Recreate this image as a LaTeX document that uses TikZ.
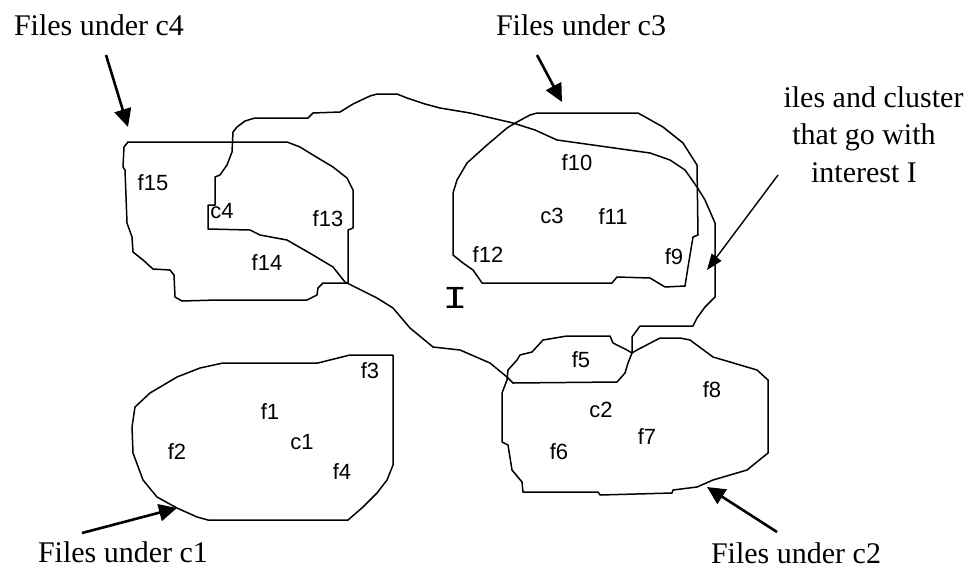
\documentclass[tikz,border=0pt]{standalone}
\usepackage{fontspec}
\setmainfont{Liberation Serif}
\setsansfont{Liberation Sans}
\setmonofont{Liberation Mono}
\usetikzlibrary{arrows.meta}

\begin{document}
\begin{tikzpicture}[x=1pt, y=-1pt,
  blob/.style={line width=1.5pt, line join=round},
  pointer/.style={line width=2.6pt, -{Triangle[length=18pt,width=17pt]}},
  thinpointer/.style={line width=1.4pt, -{Triangle[length=16pt,width=12pt]}},
  file/.style={font=\sffamily\fontsize{22}{24}\selectfont, inner sep=0pt},
  caption/.style={font=\fontsize{30}{37.5}\selectfont, inner sep=0pt},
]
\useasboundingbox (0,0) rectangle (971,571);

%% Cluster c4
\draw[blob] (128,142) -- (287,142) -- (300,147) -- (313,155) -- (333,167)
  -- (347,178) -- (353,190) -- (353,228) -- (348,230) -- (348,283)
  -- (323,283) -- (318,288) -- (317,295) -- (307,300) -- (217,300)
  -- (182,301) -- (175,297) -- (174,275) -- (170,270) -- (153,269)
  -- (143,260) -- (133,252) -- (132,237) -- (127,223) -- (125,170)
  -- (123,167) -- (124,147) -- cycle;

%% Cluster c3
\draw[blob] (537,113) -- (638,113) -- (663,127) -- (683,143) -- (697,165)
  -- (698,235) -- (693,237) -- (688,267) -- (685,286) -- (665,287)
  -- (650,278) -- (617,277) -- (612,283) -- (482,283) -- (480,280)
  -- (473,270) -- (463,263) -- (453,255) -- (453,193) -- (457,180)
  -- (467,163) -- (487,145) -- (507,128) -- (517,122) -- (530,115) -- cycle;

%% Cluster c1
\draw[blob] (223,363) -- (318,363) -- (350,355) -- (393,355) -- (393,465)
  -- (387,480) -- (377,493) -- (363,507) -- (348,520) -- (208,520)
  -- (197,517) -- (177,508) -- (157,497) -- (143,480) -- (133,453)
  -- (132,427) -- (135,407) -- (150,393) -- (177,377) -- (200,368) -- cycle;

%% Cluster c2 (top edge runs over f5)
\draw[blob] (507,380) -- (508,370) -- (517,360) -- (520,355) -- (532,352)
  -- (543,340) -- (567,336) -- (610,336) -- (613,343) -- (627,350)
  -- (632,353) -- (637,350) -- (660,338) -- (680,338) -- (690,340)
  -- (713,357) -- (730,362) -- (757,370) -- (768,380) -- (768,453)
  -- (747,470) -- (713,480) -- (697,487) -- (673,490) -- (672,493)
  -- (600,495) -- (598,492) -- (523,492) -- (522,482) -- (512,470)
  -- (508,445) -- (502,442) -- (502,393) -- cycle;

%% Interest I
\draw[blob] (208,229) -- (208,205) -- (215,205) -- (215,177) -- (220,175)
  -- (227,165) -- (232,152) -- (233,132) -- (237,127) -- (245,121)
  -- (255,118) -- (308,118) -- (313,113) -- (340,112) -- (353,104)
  -- (370,96) -- (377,94) -- (397,94) -- (407,98) -- (425,104)
  -- (440,108) -- (470,113) -- (513,123) -- (535,130) -- (557,140)
  -- (600,146) -- (650,153) -- (670,160) -- (685,170) -- (697,187)
  -- (705,200) -- (715,223) -- (715,297) -- (705,307) -- (697,318)
  -- (693,326) -- (640,326) -- (632,337) -- (632,353) -- (628,363)
  -- (625,373) -- (617,382) -- (513,383) -- (507,377) -- (490,363)
  -- (460,350) -- (433,347) -- (410,328) -- (393,308) -- (377,298)
  -- (345,282) -- (333,267) -- (313,255) -- (287,240) -- (260,235)
  -- (250,230) -- cycle;
\node[font=\ttfamily\fontsize{32}{32}\selectfont, inner sep=0pt] (ilbl)
  at (455,298) {\scalebox{1.3}[1]{I}};

%% File labels
\node[file] (f15) at (153,183) {f15};
\node[file] (c4)  at (222,211) {c4};
\node[file] (f13) at (328,219) {f13};
\node[file] (f14) at (267,263) {f14};
\node[file] (f10) at (577,163) {f10};
\node[file] (c3)  at (552,216) {c3};
\node[file] (f11) at (613,217) {f11};
\node[file] (f12) at (488,255) {f12};
\node[file] (f9)  at (674,257) {f9};
\node[file] (f5)  at (581,360) {f5};
\node[file] (f8)  at (712,390) {f8};
\node[file] (c2)  at (601,410) {c2};
\node[file] (f7)  at (647,437) {f7};
\node[file] (f6)  at (559,452) {f6};
\node[file] (f3)  at (370,371) {f3};
\node[file] (f1)  at (270,412) {f1};
\node[file] (c1)  at (302,442) {c1};
\node[file] (f2)  at (177,452) {f2};
\node[file] (f4)  at (342,472) {f4};

%% Captions
\node[caption, anchor=base] (capfour)  at (99,35)  {Files under c4};
\node[caption, anchor=base] (capthree) at (581,35) {Files under c3};
\node[caption, anchor=base] (capone)   at (123,562) {Files under c1};
\node[caption, anchor=base] (captwo)   at (796,563) {Files under c2};
\node[caption, anchor=north, align=center] (capint) at (864,86)
  {\hspace*{19pt}iles and cluster\\that go with\\interest I};

%% Pointers
\coordinate (fourfrom)  at (106,55);
\coordinate (fourto)    at (128,127);
\coordinate (threefrom) at (537,55);
\coordinate (threeto)   at (562,102);
\coordinate (onefrom)   at (82,533);
\coordinate (oneto)     at (177,508);
\coordinate (twofrom)   at (777,532);
\coordinate (twoto)     at (707,487);
\coordinate (intfrom)   at (778,175);
\coordinate (intto)     at (707,270);
\draw[pointer] (fourfrom) -- (fourto);
\draw[pointer] (threefrom) -- (threeto);
\draw[pointer] (onefrom) -- (oneto);
\draw[pointer] (twofrom) -- (twoto);
\draw[thinpointer] (intfrom) -- (intto);

\end{tikzpicture}
\end{document}
